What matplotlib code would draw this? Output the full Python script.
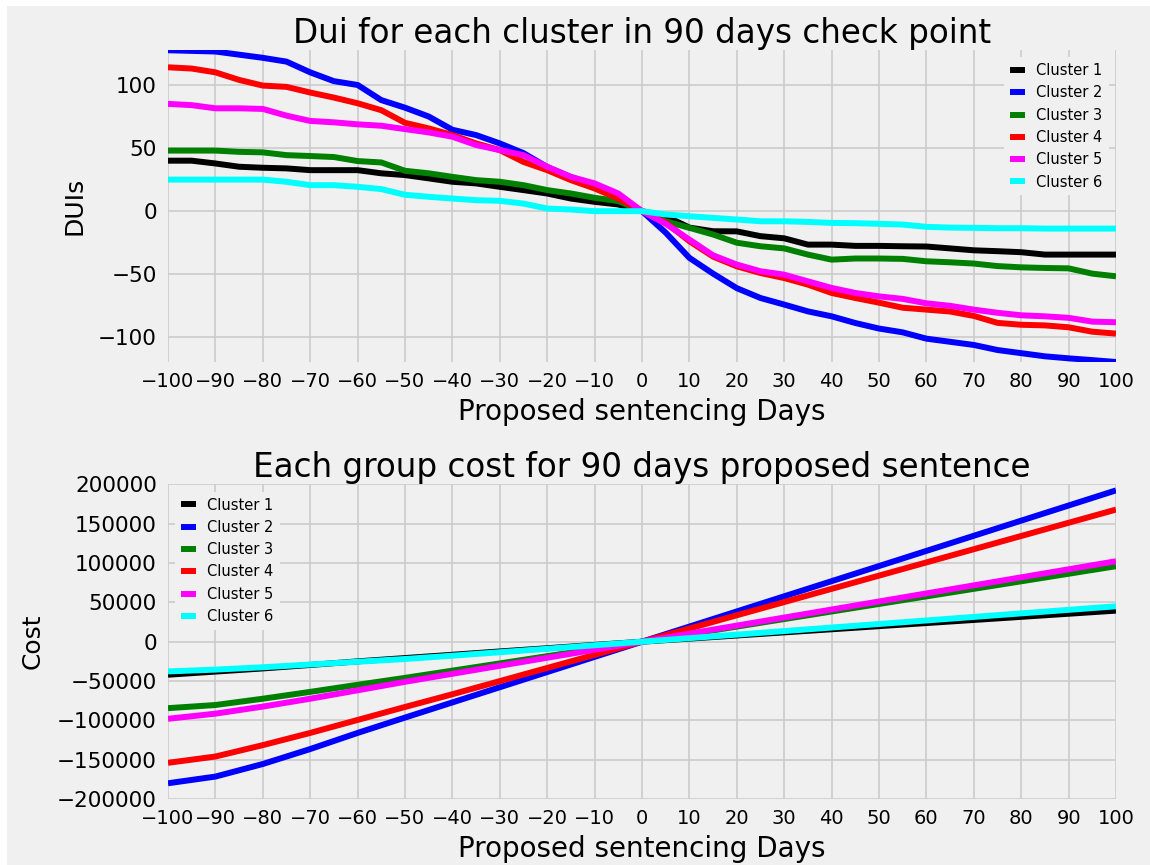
import matplotlib
matplotlib.use('Agg')
import matplotlib.pyplot as plt
from matplotlib.patches import Rectangle

# ---------------- data ----------------
cluster_names = ['Cluster 1', 'Cluster 2', 'Cluster 3', 'Cluster 4', 'Cluster 5', 'Cluster 6']
cluster_colors = ['#000000', '#0000ff', '#008000', '#ff0000', '#ff00ff', '#00ffff']

dui_days = list(range(-100, 101, 5))

dui_c1 = [40, 40, 37.8, 35.2, 34.4, 33.9, 32.5, 32.5, 32.5, 30, 28.6, 26, 23.3, 22, 19.3, 16.7,
          14, 10, 7.4, 5.3, 0, -4, -13, -15.9, -16, -19.8, -21.5, -26.5, -26.5, -27.5, -27.5,
          -27.8, -28, -29.5, -31, -31.7, -32.5, -34.4, -34.4, -34.4, -34.4]
dui_c2 = [127.5, 127, 126.5, 124, 121.5, 118.5, 110, 103, 100, 88, 82, 75, 64.5, 60.3, 53.7, 46,
          35, 27, 21, 12, 0, -17, -37, -49.5, -61, -68.8, -74, -79.4, -83.3, -88.6, -93,
          -96, -101, -103.5, -106, -110, -112.5, -115, -116.6, -118, -119.5]
dui_c3 = [48, 48, 48, 47, 46.6, 44.4, 43.7, 42.9, 39.7, 38.6, 32, 30, 27.2, 24.6, 23.3, 20.6,
          16.7, 14, 10.6, 8, 0, -8, -13.2, -18.5, -25, -27.8, -29.5, -34.4, -38.4, -37.5, -37.5,
          -37.8, -39.7, -40.5, -41.5, -43.5, -44.5, -45, -45.3, -49.5, -51.6]
dui_c4 = [114, 113, 110, 104, 99.5, 98.5, 94, 90, 85.5, 80, 70, 65.6, 60.3, 53.7, 48.4, 39,
          32.5, 24.6, 18, 10, 0, -9, -23.8, -36, -43.7, -49, -53, -58.2, -64.8, -68.8, -72.5,
          -76.5, -78, -79.5, -83, -88.5, -90, -90.5, -92, -95.5, -97]
dui_c5 = [85, 84, 81.5, 81.5, 81, 75.7, 71.5, 70.4, 68.8, 67.7, 65, 62.4, 59, 52.4, 48.4, 44.4,
          35.2, 27.2, 22, 14, 0, -10, -22.5, -35, -42.3, -47.6, -50.3, -55.6, -60.8, -64.8, -67.5,
          -69.5, -73, -75, -78, -80.5, -82.5, -83.3, -84.5, -87.5, -88]
dui_c6 = [25, 25, 25, 25, 25, 23.3, 20.6, 20.6, 19.3, 17.5, 13, 11.4, 10, 8.7, 8.2, 6,
          2.1, 1.3, 0, 0, 0, -2.6, -4, -5.3, -6.6, -8, -8, -8.5, -9.3, -9.5, -10,
          -10.6, -12.4, -13, -13.2, -13.5, -13.5, -13.8, -13.8, -13.8, -13.8]

cost_days = list(range(-100, 101, 10))

cost_c1 = [-42000, -38000, -34000, -29600, -25000, -20800, -16600, -12400, -8300, -4100, 0,
           3950, 7900, 11850, 15800, 19750, 23700, 27650, 31600, 35550, 39500]
cost_c2 = [-180000, -171500, -155500, -136500, -116000, -96500, -77200, -57900, -38600, -19300, 0,
           19240, 38480, 57720, 76960, 96200, 115440, 134680, 153920, 173160, 192400]
cost_c3 = [-84500, -80500, -72500, -63800, -54800, -46000, -36800, -27600, -18400, -9200, 0,
           9600, 19200, 28800, 38400, 48000, 57600, 67200, 76800, 86400, 96000]
cost_c4 = [-154000, -146000, -131500, -116000, -99500, -83000, -66800, -50100, -33400, -16700, 0,
           16800, 33600, 50400, 67200, 84000, 100800, 117600, 134400, 151200, 168000]
cost_c5 = [-98000, -91500, -82500, -72500, -61800, -51000, -40800, -30600, -20400, -10200, 0,
           10230, 20460, 30690, 40920, 51150, 61380, 71610, 81840, 92070, 102300]
cost_c6 = [-37800, -35500, -32500, -29000, -25500, -22000, -17800, -13400, -9000, -4500, 0,
           4500, 9000, 13500, 18000, 22500, 27000, 31500, 36000, 40500, 45000]

dui_series = [dui_c1, dui_c2, dui_c3, dui_c4, dui_c5, dui_c6]
cost_series = [cost_c1, cost_c2, cost_c3, cost_c4, cost_c5, cost_c6]

x_ticks = list(range(-100, 101, 10))
dui_yticks = [-100, -50, 0, 50, 100]
cost_yticks = list(range(-200000, 200001, 50000))

# ---------------- style ----------------
plt.style.use('fivethirtyeight')
plt.rcParams['font.family'] = ['DejaVu Sans']

W, H = 1150, 865
fig = plt.figure(figsize=(W / 100, H / 100), dpi=100, facecolor='white')
fig.patches.append(Rectangle((7 / W, 0), 1, 1 - 6 / H, transform=fig.transFigure,
                             facecolor='#f0f0f0', edgecolor='none', zorder=-10))

ax1 = fig.add_axes([168 / W, 1 - 362 / H, 948 / W, 312 / H])
ax2 = fig.add_axes([168 / W, 1 - 799 / H, 948 / W, (799 - 484.4) / H])

for name, color, ys in zip(cluster_names, cluster_colors, dui_series):
    ax1.plot(dui_days, ys, color=color, lw=4.3, label=name)
for name, color, ys in zip(cluster_names, cluster_colors, cost_series):
    ax2.plot(cost_days, ys, color=color, lw=4.3, label=name)

ax1.set_ylim(-119.5, 127.7)
ax1.set_yticks(dui_yticks)
ax1.set_title('Dui for each cluster in 90 days check point', fontsize=23.5, pad=5)
ax1.set_ylabel('DUIs', fontsize=18, labelpad=8)
ax1.legend(loc='upper right', fontsize=10.5, handlelength=1.0, frameon=True,
           facecolor='#f0f0f0', edgecolor='none', framealpha=1)

ax2.set_ylim(-200000, 200000)
ax2.set_yticks(cost_yticks)
ax2.set_title('Each group cost for 90 days proposed sentence', fontsize=23.5, pad=5)
ax2.set_ylabel('Cost', fontsize=18, labelpad=9)
ax2.legend(loc='upper left', fontsize=10.5, handlelength=1.0, frameon=True,
           facecolor='#f0f0f0', edgecolor='none', framealpha=1)

for ax in (ax1, ax2):
    ax.set_xlim(-100, 100)
    ax.set_xticks(x_ticks)
    ax.set_xlabel('Proposed sentencing Days', fontsize=20, labelpad=5)
    ax.tick_params(axis='x', labelsize=14, pad=7)
    ax.tick_params(axis='y', labelsize=15.5, pad=8)
    ax.grid(True, color='#cbcbcb', lw=1.2)
    ax.set_facecolor('#f0f0f0')
    for s in ax.spines.values():
        s.set_visible(False)

fig.savefig('out.png', dpi=100)
